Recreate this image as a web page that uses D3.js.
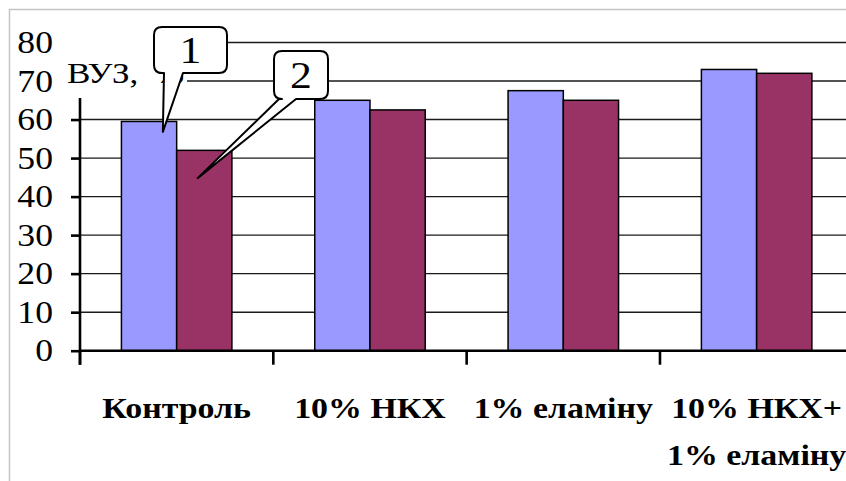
<!DOCTYPE html>
<html>
<head>
<meta charset="utf-8">
<script src="https://cdn.jsdelivr.net/npm/d3@7"></script>
<style>
  html, body { margin: 0; padding: 0; background: #fff; }
  svg { display: block; }
  svg text { font-family: "Liberation Serif", "Times New Roman", "DejaVu Serif", serif; }
</style>
</head>
<body>
<svg id="chart" width="846" height="481"></svg>
<script>
// ---- data ----
const categories = ["Контроль", "10% НКХ", "1% еламіну", "10% НКХ+ 1% еламіну"];
const categoryLines = [["Контроль"], ["10% НКХ"], ["1% еламіну"], ["10% НКХ+", "1% еламіну"]];
const seriesNames = ["1", "2"];
const series1 = [59.5, 65, 67.5, 73];
const series2 = [52, 62.5, 65, 72];
const yTicks = [0, 10, 20, 30, 40, 50, 60, 70, 80];
const axisTitle = "ВУЗ, %";
// callout labels point at a bar: category index, series index, value, fraction across the bar
const callouts = [
  { label: "1", cat: 0, ser: 0, value: 56.8, across: 0.75 },
  { label: "2", cat: 0, ser: 1, value: 44.8, across: 0.38 }
];

// ---- layout ----
const plot = { left: 80, right: 853.3, top: 42.5, bottom: 350.7 };
const stretch = 1.15;

const svg = d3.select("#chart");

const x = d3.scaleBand().domain(categories).range([plot.left, plot.right]).padding(0);
const xs = d3.scaleBand().domain(seriesNames).range([0, x.bandwidth()])
  .paddingInner(0).paddingOuter(0.75);
const y = d3.scaleLinear().domain([0, 80]).range([plot.bottom, plot.top]);

const rows = categories.map((c, i) => ({ cat: c, values: [series1[i], series2[i]] }));
const colors = d3.scaleOrdinal().domain(seriesNames).range(["#9999ff", "#993366"]);

// outer frame
svg.append("rect")
  .attr("x", 9.5).attr("y", 9.5).attr("width", 900).attr("height", 600)
  .attr("fill", "#fff").attr("stroke", "#c4c4c4").attr("stroke-width", 1.5);

// horizontal gridlines
svg.append("g").selectAll("line")
  .data(yTicks.filter(v => v > 0))
  .join("line")
  .attr("x1", plot.left).attr("x2", plot.right)
  .attr("y1", d => y(d)).attr("y2", d => y(d))
  .attr("stroke", "#1a1a1a").attr("stroke-width", 1.4);

// bars
svg.append("g").selectAll("g")
  .data(rows)
  .join("g")
  .attr("transform", d => `translate(${x(d.cat)},0)`)
  .selectAll("rect")
  .data(d => d.values.map((v, k) => ({ key: seriesNames[k], v })))
  .join("rect")
  .attr("x", d => xs(d.key))
  .attr("width", xs.bandwidth())
  .attr("y", d => y(d.v))
  .attr("height", d => y(0) - y(d.v))
  .attr("fill", d => colors(d.key))
  .attr("stroke", "#000").attr("stroke-width", 1.5);

// y axis
const yAxis = svg.append("g")
  .attr("transform", `translate(${plot.left},0)`)
  .call(d3.axisLeft(y).tickValues(yTicks).tickSize(9).tickFormat(""));
yAxis.select(".domain").attr("d", `M0,${plot.top}V${plot.bottom + 14}`)
  .attr("stroke", "#000").attr("stroke-width", 2.6);
yAxis.selectAll(".tick line").attr("stroke", "#000").attr("stroke-width", 2.6);

// y tick labels
svg.append("g").selectAll("text")
  .data(yTicks)
  .join("text")
  .attr("transform", d => `translate(53,${y(d) + 10.5}) scale(${stretch},1)`)
  .attr("text-anchor", "end")
  .attr("font-size", 31)
  .attr("fill", "#000")
  .text(d => d);

// x axis with ticks on category boundaries
const boundaries = categories.map(c => x(c)).concat([x(categories[categories.length - 1]) + x.bandwidth()]);
svg.append("line")
  .attr("x1", plot.left).attr("x2", plot.right)
  .attr("y1", y(0)).attr("y2", y(0))
  .attr("stroke", "#000").attr("stroke-width", 2.6);
svg.append("g").selectAll("line")
  .data(boundaries)
  .join("line")
  .attr("x1", d => d).attr("x2", d => d)
  .attr("y1", y(0)).attr("y2", y(0) + 14)
  .attr("stroke", "#000").attr("stroke-width", 2.6);

// category labels
const xl = svg.append("g").selectAll("g")
  .data(categories.map((c, i) => ({ c, lines: categoryLines[i] })))
  .join("g");
xl.selectAll("text")
  .data(d => d.lines.map((t, j) => ({ t, j, cx: x(d.c) + x.bandwidth() / 2 })))
  .join("text")
  .attr("transform", d => `translate(${d.cx},${418 + d.j * 47}) scale(${stretch},1)`)
  .attr("text-anchor", "middle")
  .attr("font-size", 29.5).attr("font-weight", "bold")
  .attr("fill", "#000")
  .text(d => d.t);

// axis title on a white panel
svg.append("rect")
  .attr("x", 62).attr("y", 33).attr("width", 125).attr("height", 65)
  .attr("fill", "#fff");
svg.append("text")
  .attr("transform", `translate(67,83) scale(${stretch},1)`)
  .attr("font-size", 30.5)
  .attr("word-spacing", 7)
  .attr("fill", "#000")
  .text(axisTitle);

// callouts
const boxes = [
  { x: 154, y: 27, w: 73, h: 46, b1: 164, b2: 183 },
  { x: 274, y: 51, w: 54, h: 48, b1: 279, b2: 296 }
];
function calloutPath(b, tx, ty) {
  const r = 8, x0 = b.x, y0 = b.y, x1 = b.x + b.w, y1 = b.y + b.h;
  return `M${x0 + r},${y0}H${x1 - r}Q${x1},${y0} ${x1},${y0 + r}` +
    `V${y1 - r}Q${x1},${y1} ${x1 - r},${y1}` +
    `H${b.b2}L${tx},${ty}L${b.b1},${y1}` +
    `H${x0 + r}Q${x0},${y1} ${x0},${y1 - r}V${y0 + r}Q${x0},${y0} ${x0 + r},${y0}Z`;
}
callouts.forEach((c, i) => {
  const b = boxes[i];
  const tx = x(categories[c.cat]) + xs(seriesNames[c.ser]) + xs.bandwidth() * c.across;
  const ty = y(c.value);
  svg.append("path")
    .attr("d", calloutPath(b, tx, ty))
    .attr("fill", "#fff").attr("stroke", "#000").attr("stroke-width", 2)
    .attr("stroke-linejoin", "round");
  svg.append("text")
    .attr("transform", `translate(${b.x + b.w / 2},${b.y + b.h / 2 + 13}) scale(${stretch},1)`)
    .attr("text-anchor", "middle")
    .attr("font-size", 38)
    .attr("fill", "#000")
    .text(c.label);
});
</script>
</body>
</html>
